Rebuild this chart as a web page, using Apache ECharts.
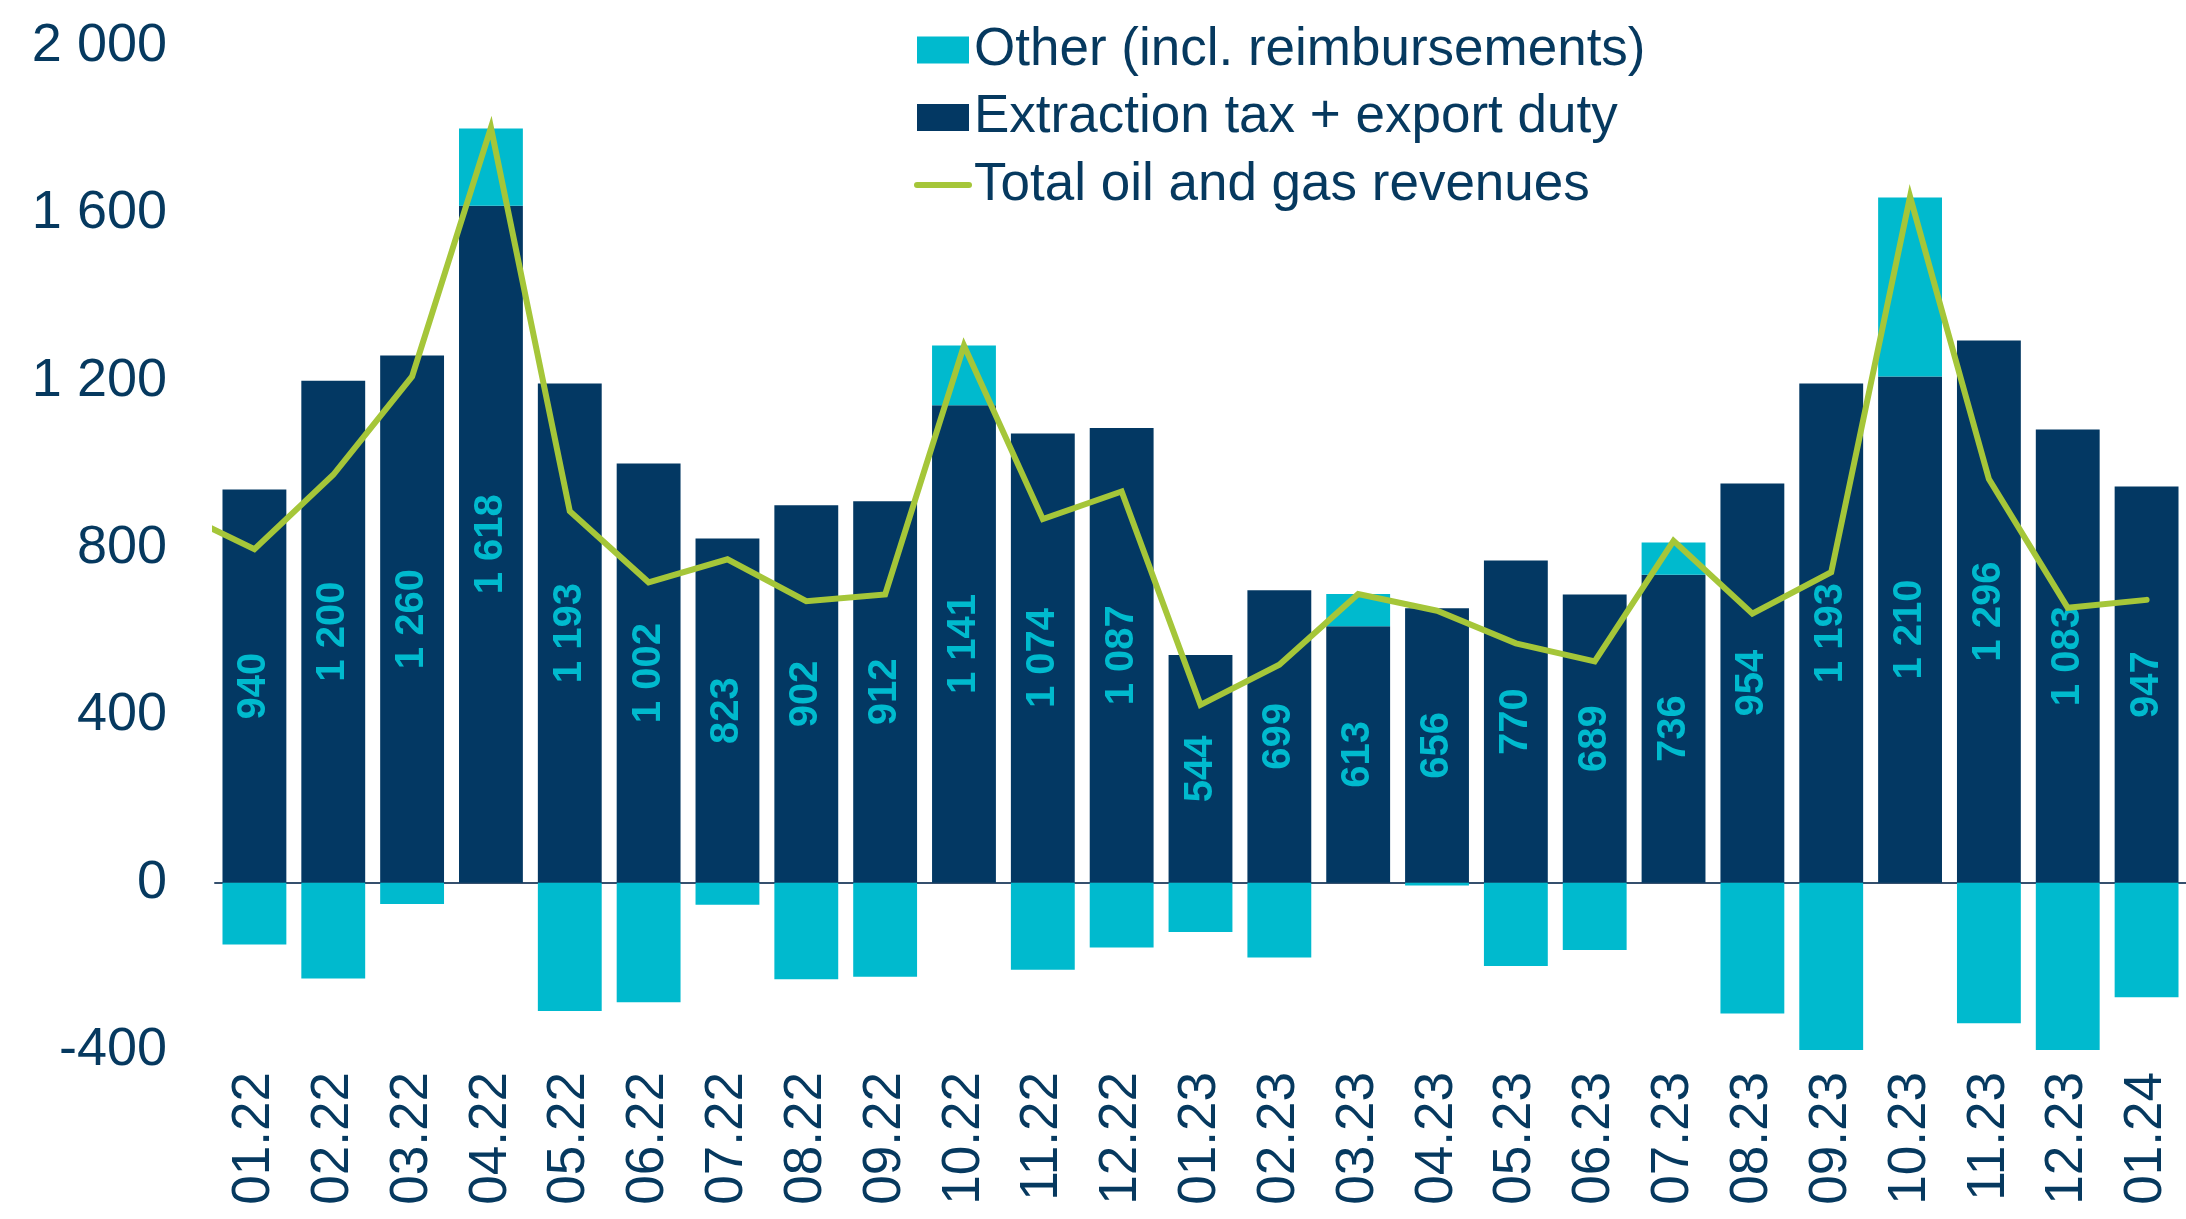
<!DOCTYPE html>
<html>
<head>
<meta charset="utf-8">
<title>Oil and gas revenues</title>
<script src="https://cdn.jsdelivr.net/npm/echarts@6/dist/echarts.min.js"></script>
<style>
  html, body { margin: 0; padding: 0; background: #fff; }
  #chart { width: 2186px; height: 1219px; }
</style>
</head>
<body>
<div id="chart"></div>
<script>
// months shown on the axis
const months = ['01.22', '02.22', '03.22', '04.22', '05.22', '06.22', '07.22', '08.22', '09.22', '10.22', '11.22', '12.22',
    '01.23', '02.23', '03.23', '04.23', '05.23', '06.23', '07.23', '08.23', '09.23', '10.23', '11.23', '12.23', '01.24']

// extraction tax + export duty (labelled in the bars)
const extraction = [940, 1200, 1260, 1618, 1193, 1002, 823, 902, 912, 1141, 1074, 1087,
    544, 699, 613, 656, 770, 689, 736, 954, 1193, 1210, 1296, 1083, 947]

// other incl. reimbursements (can be negative)
const other = [-148, -229, -51, 185, -307, -286, -53, -231, -225, 143, -208, -155,
    -118, -179, 77, -7, -199, -161, 77, -313, -402, 428, -336, -404, -274]

// total oil and gas revenues (line)
const total = [797, 975, 1210, 1805, 888, 718, 773, 673, 689, 1284, 869, 935,
    425, 521, 690, 650, 572, 529, 817, 643, 742, 1640, 965, 657, 676]
// 12.21 total, only its clipped segment shows at the left edge
const totalPrev = 889

const yTicks = { min: -400, max: 2000, step: 400 }

const NAVY = '#033863'
const CYAN = '#00bace'
const GREEN = '#a5c639'
const TEXT = '#06395f'
const FONT = '"Liberation Sans", Arial, sans-serif'

const spaced = (v) => String(v).replace(/\B(?=(\d{3})+(?!\d))/g, ' ')

const chart = echarts.init(document.getElementById('chart'))

// line points on a hidden value axis so the previous month can be clipped
const linePoints = [[-1, totalPrev]].concat(total.map((v, i) => [i, v]))

const option = {
    animation: false,
    textStyle: { fontFamily: FONT },
    legend: {
        orient: 'vertical',
        left: 914,
        top: 20,
        padding: 0,
        itemWidth: 52,
        itemHeight: 27,
        itemGap: 7.5,
        data: [
            { name: 'Other (incl. reimbursements)', icon: 'rect' },
            { name: 'Extraction tax + export duty', icon: 'rect' },
            {
                name: 'Total oil and gas revenues',
                // just the line, no marker
                itemStyle: { color: 'rgba(0,0,0,0)', borderColor: 'rgba(0,0,0,0)', borderWidth: 0 },
                lineStyle: { color: GREEN, width: 6, cap: 'round' }
            }
        ],
        textStyle: {
            color: TEXT,
            fontSize: 53,
            lineHeight: 60,
            fontFamily: FONT
        }
    },
    grid: {
        left: 215,
        top: 46,
        width: 1986,
        height: 1004
    },
    xAxis: [
        {
            type: 'category',
            data: months,
            position: 'bottom',
            axisLine: { show: false, onZero: false },
            axisTick: { show: false },
            axisLabel: {
                interval: 0,
                rotate: 90,
                margin: 22,
                color: TEXT,
                fontSize: 53,
                fontFamily: FONT
            }
        },
        {
            // zero line + x position for the total line
            type: 'value',
            min: -0.5,
            max: months.length - 0.5,
            position: 'top',
            axisLine: { show: true, onZero: true, lineStyle: { color: '#35506e', width: 2 } },
            axisTick: { show: false },
            axisLabel: { show: false },
            splitLine: { show: false }
        }
    ],
    yAxis: {
        type: 'value',
        min: yTicks.min,
        max: yTicks.max,
        interval: yTicks.step,
        axisLine: { show: false },
        axisTick: { show: false },
        splitLine: { show: false },
        axisLabel: {
            margin: 48,
            color: TEXT,
            fontSize: 54,
            fontFamily: FONT,
            formatter: (v) => spaced(v)
        }
    },
    series: [
        {
            name: 'Extraction tax + export duty',
            type: 'bar',
            stack: 'rev',
            barWidth: '81%',
            data: extraction,
            itemStyle: { color: NAVY },
            label: {
                show: true,
                position: 'inside',
                rotate: 90,
                color: CYAN,
                fontSize: 40,
                fontWeight: 'bold',
                fontFamily: FONT,
                formatter: (p) => spaced(p.value)
            }
        },
        {
            name: 'Other (incl. reimbursements)',
            type: 'bar',
            stack: 'rev',
            barWidth: '81%',
            data: other,
            itemStyle: { color: CYAN }
        },
        {
            name: 'Total oil and gas revenues',
            type: 'line',
            xAxisIndex: 1,
            data: linePoints,
            symbol: 'none',
            clip: true,
            z: 5,
            itemStyle: { color: GREEN },
            lineStyle: { color: GREEN, width: 6, cap: 'round', join: 'miter' }
        }
    ]
}

chart.setOption(option)
</script>
</body>
</html>
